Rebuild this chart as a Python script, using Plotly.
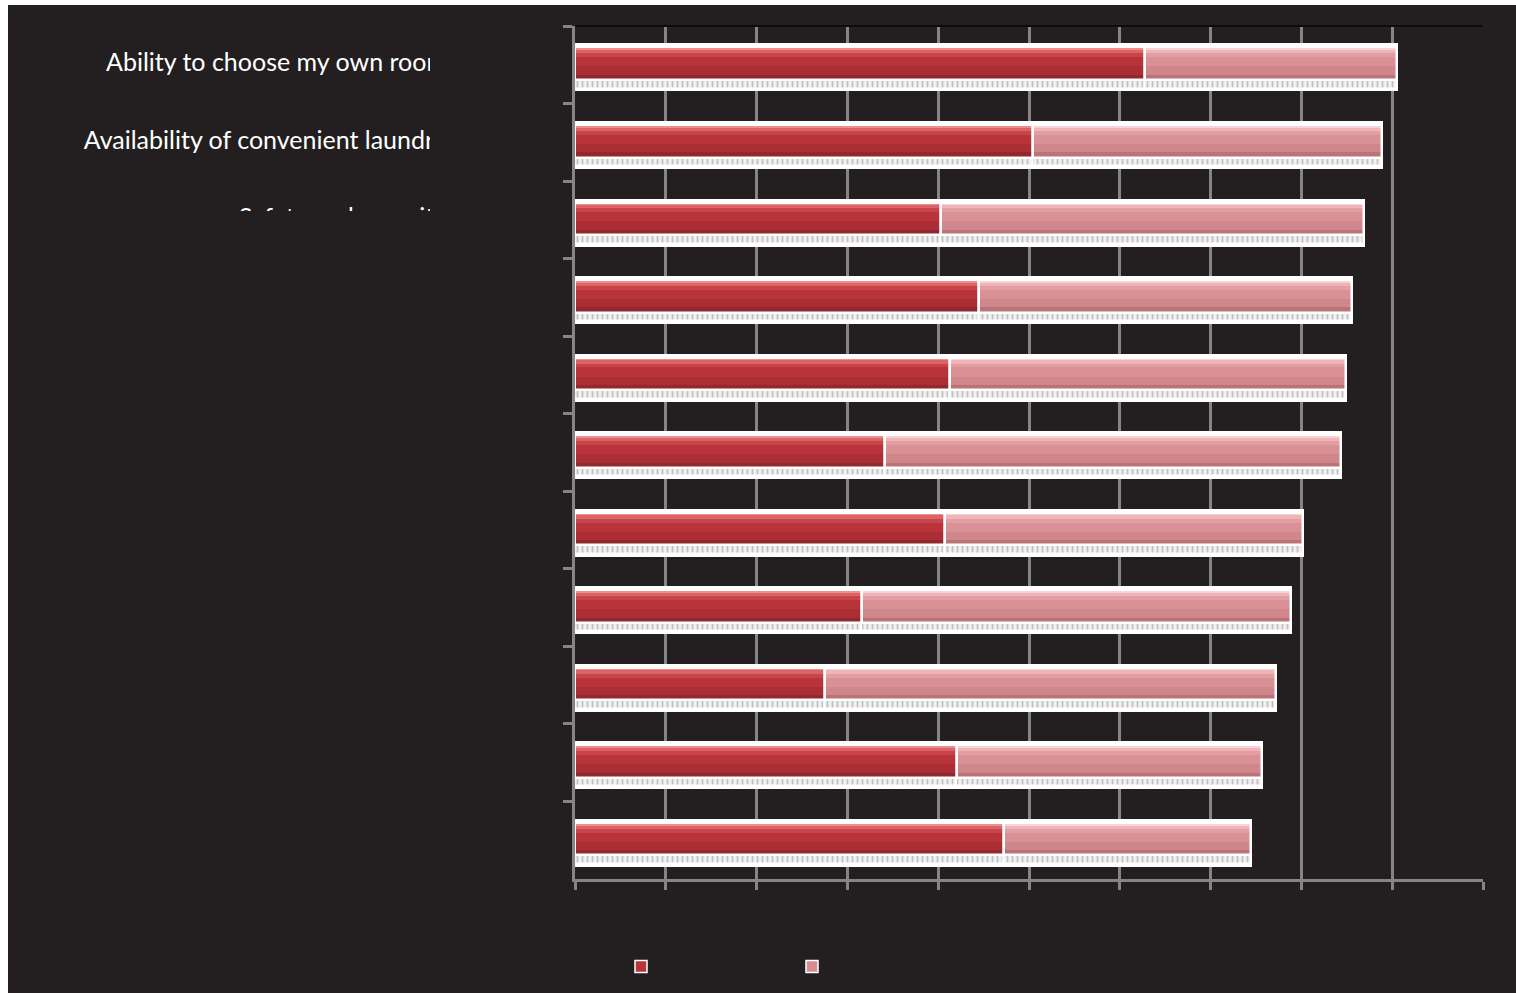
import plotly.graph_objects as go

# ---- data -------------------------------------------------------------
categories = [
    "Ability to choose my own room",
    "Availability of convenient laundry",
    "Safety and security",
    "Proximity to classes",
    "Cost of housing",
    "Cleanliness of facilities",
    "Quiet study space",
    "Internet access",
    "Room size",
    "Social atmosphere",
    "Dining options",
]
very_important = [62.8, 50.4, 40.3, 44.5, 41.3, 34.1, 40.7, 31.6, 27.5, 42.1, 47.3]
somewhat_important = [27.7, 38.5, 46.6, 41.1, 43.6, 50.3, 39.5, 47.3, 49.7, 33.6, 27.1]
x_ticks = [0, 10, 20, 30, 40, 50, 60, 70, 80, 90, 100]

totals = [a + b for a, b in zip(very_important, somewhat_important)]

# ---- page geometry (pixels) -------------------------------------------
W, H = 1516, 993
PLOT_L, PLOT_R, PLOT_T, PLOT_B = 575, 1483, 26, 879
LABEL_L, LABEL_R, LABEL_B = 8, 430, 211
LABEL_ANCHOR_PX = 447


def fx(px):
    return px / W


def fy(py):
    return 1 - py / H


n = len(categories)
cat_px = (PLOT_B - PLOT_T) / n

BG = "#231f20"
GRID = "#858585"

# vertical layout of a bar inside its category slot (category units, downwards)
FRAME_OFF, FRAME_W = -0.249, 0.580
BODY_OFF, BODY_W = -0.223, 0.419
REFL_OFF, REFL_W = 0.203, 0.103

# glossy vertical shading of each bar body: (from, to, dark red, light red)
bands = [
    (0.00, 0.08, "#ef8f8c", "#f9d3d5"),
    (0.08, 0.18, "#dc6367", "#eeb4b7"),
    (0.18, 0.30, "#c7444a", "#e29fa3"),
    (0.30, 0.58, "#b8343a", "#d99195"),
    (0.58, 0.84, "#ab2e34", "#cf878b"),
    (0.84, 1.00, "#90292e", "#ba7478"),
]

fig = go.Figure()

common = dict(orientation="h", y=categories, hoverinfo="skip", showlegend=False)

# white frame behind every bar
fig.add_trace(go.Bar(x=totals, base=0, offset=FRAME_OFF, width=FRAME_W,
                     marker=dict(color="white", line=dict(color="white", width=3)),
                     **common))

# textured reflection strip under each segment
refl_marker = dict(color="#f1f1f1", line=dict(color="white", width=1.5),
                   pattern=dict(shape="|", fgcolor="#8f8f8f", size=5,
                                solidity=0.35, fillmode="overlay"))
fig.add_trace(go.Bar(x=very_important, base=0, offset=REFL_OFF, width=REFL_W,
                     marker=refl_marker, **common))
fig.add_trace(go.Bar(x=somewhat_important, base=very_important, offset=REFL_OFF,
                     width=REFL_W, marker=refl_marker, **common))

# solid body (also provides the legend swatches)
fig.add_trace(go.Bar(orientation="h", y=categories, x=very_important, base=0,
                     offset=BODY_OFF, width=BODY_W, name="",
                     marker=dict(color="#b8343a", line=dict(color="white", width=1.5)),
                     hovertemplate="%{y}: %{x}<extra></extra>"))
fig.add_trace(go.Bar(orientation="h", y=categories, x=somewhat_important,
                     base=very_important, offset=BODY_OFF, width=BODY_W, name="",
                     marker=dict(color="#d68c90", line=dict(color="white", width=1.5)),
                     hovertemplate="%{y}: %{x}<extra></extra>"))

# shading bands
for f0, f1, c_dark, c_light in bands:
    off = BODY_OFF + f0 * BODY_W
    wid = (f1 - f0) * BODY_W
    fig.add_trace(go.Bar(x=very_important, base=0, offset=off, width=wid,
                         marker=dict(color=c_dark, line=dict(width=0)), **common))
    fig.add_trace(go.Bar(x=somewhat_important, base=very_important, offset=off,
                         width=wid, marker=dict(color=c_light, line=dict(width=0)),
                         **common))

# white outlines separating the two segments
outline = dict(color="rgba(0,0,0,0)", line=dict(color="white", width=2.5))
fig.add_trace(go.Bar(x=very_important, base=0, offset=BODY_OFF, width=BODY_W,
                     marker=outline, **common))
fig.add_trace(go.Bar(x=somewhat_important, base=very_important, offset=BODY_OFF,
                     width=BODY_W, marker=outline, **common))

# category labels, clipped to their text box
anchor_x = (LABEL_ANCHOR_PX - LABEL_L) / (LABEL_R - LABEL_L)
fig.add_trace(go.Scatter(
    x=[anchor_x] * n, y=categories, mode="text", text=categories,
    textposition="middle left", cliponaxis=True,
    textfont=dict(family="Lato", size=25, color="white"),
    xaxis="x2", yaxis="y2", hoverinfo="skip", showlegend=False,
))

fig.update_layout(
    width=W, height=H, autosize=False,
    margin=dict(l=0, r=0, t=0, b=0, pad=0),
    paper_bgcolor=BG, plot_bgcolor=BG,
    barmode="overlay", bargap=0,
    font=dict(family="Lato", color="white"),
    xaxis=dict(
        domain=[fx(PLOT_L), fx(PLOT_R)], range=[0, 100],
        tickmode="array", tickvals=x_ticks, showticklabels=False,
        ticks="outside", ticklen=8, tickwidth=2.5, tickcolor=GRID,
        showgrid=True, gridcolor=GRID, gridwidth=2.5,
        showline=True, linecolor=GRID, linewidth=2.5,
        zeroline=False, fixedrange=True, anchor="y",
    ),
    yaxis=dict(
        domain=[fy(PLOT_B), fy(PLOT_T)], type="category",
        categoryorder="array", categoryarray=categories,
        range=[n - 0.5, -0.5], tickson="boundaries",
        ticks="outside", ticklen=9, tickwidth=2.5, tickcolor=GRID,
        showticklabels=False, showgrid=False,
        showline=True, linecolor=GRID, linewidth=2.5,
        zeroline=False, fixedrange=True, anchor="x",
    ),
    xaxis2=dict(domain=[fx(LABEL_L), fx(LABEL_R)], range=[0, 1],
                visible=False, fixedrange=True, anchor="y2"),
    yaxis2=dict(domain=[fy(LABEL_B), fy(PLOT_T)], type="category",
                categoryorder="array", categoryarray=categories,
                range=[(LABEL_B - PLOT_T) / cat_px - 0.5, -0.5],
                visible=False, fixedrange=True, anchor="x2"),
    legend=dict(orientation="h", x=fx(621), xanchor="left",
                y=fy(967), yanchor="middle", entrywidth=126,
                bgcolor="rgba(0,0,0,0)", font=dict(size=14, color="white"),
                traceorder="normal"),
    shapes=[
        # dark top border of the plotting area
        dict(type="line", xref="x domain", yref="y domain", x0=0, x1=1, y0=1, y1=1,
             line=dict(color="#0c0c0c", width=2), layer="above"),
        # white page edges
        dict(type="rect", xref="paper", yref="paper", x0=0, x1=fx(LABEL_L), y0=0, y1=1,
             fillcolor="white", line=dict(width=0), layer="above"),
        dict(type="rect", xref="paper", yref="paper", x0=0, x1=1, y0=fy(5), y1=1,
             fillcolor="white", line=dict(width=0), layer="above"),
    ],
)

fig.write_html("out.html")
